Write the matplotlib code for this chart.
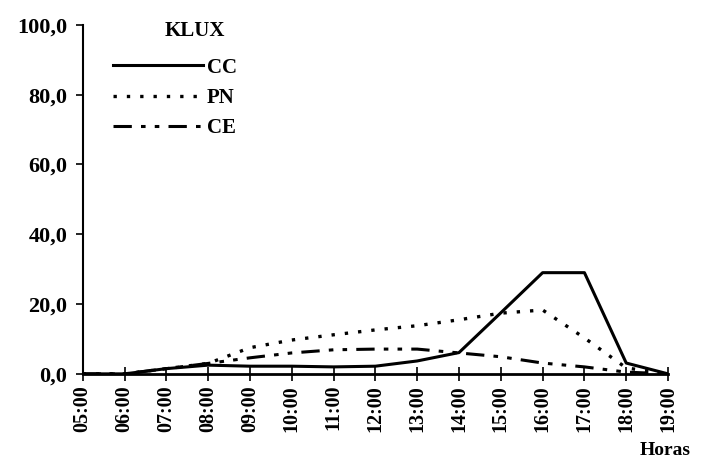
import numpy as np
import matplotlib.pyplot as plt

plt.rcParams['font.family'] = ['Liberation Serif', 'DejaVu Serif']

# Horas
horas = ['05:00', '06:00', '07:00', '08:00', '09:00', '10:00', '11:00', '12:00',
         '13:00', '14:00', '15:00', '16:00', '17:00', '18:00', '19:00']

# KLUX por serie
cc = [0, 0, 1.5, 2.5, 2.2, 2.2, 2.0, 2.2, 3.7, 6.1, 17.5, 29.0, 29.0, 3.1, 0]
pn = [0, 0, 1.5, 3.0, 7.5, 9.7, 11.2, 12.6, 13.8, 15.5, 17.4, 18.3, 10.3, 1.7, 0]
ce = [0, 0, 1.5, 3.0, 4.6, 6.0, 6.9, 7.1, 7.1, 6.0, 4.9, 3.1, 2.0, 0.5, 0]

x = np.arange(len(horas))

fig = plt.figure(figsize=(7.01, 4.61), dpi=100)
ax = fig.add_axes([0.118, 0.189, 0.835, 0.757])

ax.plot(x, cc, color='black', lw=2.2, linestyle='-', label='CC')
ax.plot(x, pn, color='black', lw=2.4, linestyle=(0, (1, 3.0)), label='PN')
ax.plot(x, ce, color='black', lw=2.2, linestyle=(0, (6, 3, 1.5, 3, 1.5, 3)), label='CE')

ax.set_xlim(0, 14)
ax.set_ylim(0, 100)
ax.set_xticks(x)
ax.set_xticklabels(horas, rotation=90, fontsize=14.5, fontweight='bold')
yt = [0, 20, 40, 60, 80, 100]
ax.set_yticks(yt)
ax.set_yticklabels([f'{v:.1f}'.replace('.', ',') for v in yt], fontsize=16, fontweight='bold')

for s in ['top', 'right']:
    ax.spines[s].set_visible(False)
ax.spines['left'].set_linewidth(1.5)
ax.spines['bottom'].set_linewidth(2.0)
ax.tick_params(axis='x', direction='inout', length=10, width=1.2, pad=3)
ax.tick_params(axis='y', direction='out', length=5, width=1.2, pad=6)

leg = ax.legend(loc='upper left', bbox_to_anchor=(0.02, 0.96),
                frameon=False, handlelength=4.3, handletextpad=0.2,
                labelspacing=0.5, prop={'size': 15, 'weight': 'bold'})

ax.text(0.14, 1.01, 'KLUX', transform=ax.transAxes, fontsize=15,
        fontweight='bold', va='top')

fig.text(0.912, 0.012, 'Horas', fontsize=14, fontweight='bold')

fig.savefig('out.png', dpi=100)
